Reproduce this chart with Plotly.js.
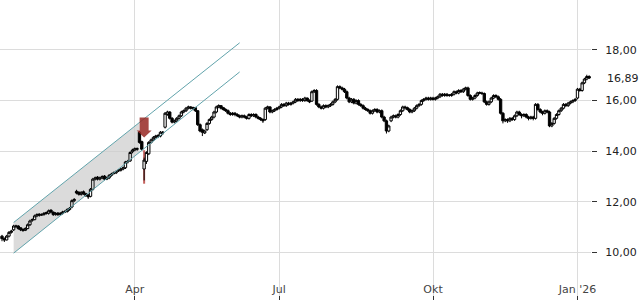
<!DOCTYPE html>
<html><head><meta charset="utf-8">
<script src="https://cdn.plot.ly/plotly-3.0.1.min.js"></script>
<style>html,body{margin:0;padding:0;background:#fff}#chart{width:640px;height:300px}</style>
</head><body><div id="chart"></div>
<script>
// trading calendar
const firstDay = '2025-01-10';
const lastDay = '2026-01-09';
const holidays = ['2025-04-18','2025-04-21','2025-05-01','2025-12-24','2025-12-25','2025-12-26','2025-12-31','2026-01-01'];

const openP = [
10.65,10.55,10.5,10.65,10.8,10.9,11.02,11.05,10.98,10.92,
10.88,10.95,11.1,11.28,11.3,11.45,11.52,11.48,11.5,11.58,
11.55,11.68,11.6,11.5,11.56,11.5,11.55,11.6,11.62,11.7,
11.8,12.05,12.42,12.38,12.3,12.4,12.32,12.28,12.22,12.5,
12.9,12.98,12.9,12.95,13.02,12.9,12.95,13.05,13.12,13.15,
13.22,13.25,13.3,13.35,13.58,13.62,13.98,14.05,14.08,14.75,
14.38,13.3,13.6,13.9,14.35,14.45,14.55,14.62,14.6,14.72,
14.95,15.45,15.55,15.3,15.15,15.2,15.3,15.4,15.55,15.6,
15.7,15.75,15.68,15.72,15.6,15.05,14.85,14.72,14.85,15.1,
15.25,15.35,15.55,15.75,15.8,15.72,15.65,15.6,15.5,15.45,
15.5,15.45,15.4,15.35,15.4,15.35,15.3,15.45,15.4,15.45,
15.35,15.3,15.25,15.25,15.7,15.75,15.55,15.6,15.65,15.7,
15.75,15.85,15.8,15.9,15.85,15.9,15.95,16.05,16.0,16.05,
16.0,16.1,16.0,15.98,16.35,16.4,15.85,15.75,15.7,15.8,
15.75,15.8,15.85,15.95,16.05,16.55,16.5,16.45,16.35,16.1,
15.95,16.05,15.9,16.0,15.85,15.8,15.7,15.65,15.6,15.5,
15.6,15.65,15.55,15.6,15.35,15.2,14.8,15.2,15.35,15.4,
15.35,15.45,15.6,15.75,15.72,15.65,15.55,15.6,15.7,15.8,
15.85,16.0,16.05,16.1,16.05,16.1,16.05,16.1,16.15,16.25,
16.2,16.25,16.22,16.2,16.25,16.35,16.3,16.4,16.35,16.45,
16.5,16.2,16.05,16.1,16.2,16.32,16.3,16.28,15.95,15.85,
15.95,16.1,16.2,16.15,16.05,15.5,15.2,15.25,15.2,15.3,
15.25,15.4,15.55,15.45,15.4,15.45,15.35,15.3,15.35,15.3,
15.85,15.65,15.55,15.5,15.6,15.55,15.0,15.1,15.3,15.45,
15.6,15.7,15.85,15.8,15.9,15.95,16.0,16.1,16.45,16.4,
16.7,16.85,16.95];

const highP = [
10.7,10.6,10.7,10.85,10.9,11.1,11.1,11.08,11.0,10.95,
11.0,11.15,11.3,11.35,11.5,11.55,11.55,11.55,11.6,11.62,
11.7,11.7,11.62,11.6,11.6,11.6,11.65,11.68,11.75,11.8,
12.1,12.15,12.48,12.42,12.42,12.45,12.36,12.3,12.55,12.95,
13.0,13.02,13.0,13.05,13.06,13.0,13.1,13.15,13.2,13.25,
13.3,13.35,13.4,13.62,13.66,14.0,14.1,14.15,14.15,14.8,
14.42,13.75,14.0,14.4,14.5,14.6,14.65,14.68,14.8,14.8,
15.55,15.6,15.58,15.35,15.25,15.35,15.45,15.6,15.65,15.75,
15.8,15.78,15.76,15.75,15.62,15.1,14.9,14.85,15.15,15.3,
15.4,15.6,15.8,15.85,15.82,15.75,15.7,15.65,15.55,15.55,
15.55,15.5,15.45,15.45,15.45,15.4,15.5,15.5,15.5,15.5,
15.4,15.35,15.3,15.75,15.8,15.78,15.65,15.7,15.75,15.8,
15.9,15.9,15.95,15.95,15.95,16.0,16.1,16.1,16.1,16.1,
16.15,16.12,16.05,16.4,16.45,16.45,15.9,15.8,15.85,15.85,
15.85,15.9,16.0,16.1,16.6,16.6,16.55,16.5,16.4,16.15,
16.1,16.1,16.05,16.05,15.9,15.85,15.75,15.7,15.65,15.65,
15.7,15.7,15.65,15.65,15.4,15.25,15.05,15.4,15.45,15.45,
15.5,15.65,15.8,15.8,15.76,15.7,15.65,15.75,15.85,15.9,
16.05,16.1,16.15,16.15,16.15,16.15,16.15,16.2,16.3,16.3,
16.3,16.3,16.26,16.3,16.4,16.4,16.45,16.45,16.5,16.55,
16.55,16.25,16.15,16.25,16.35,16.36,16.35,16.32,16.0,16.0,
16.15,16.25,16.25,16.2,16.1,15.55,15.3,15.3,15.35,15.35,
15.45,15.6,15.6,15.5,15.5,15.5,15.4,15.4,15.4,15.9,
15.9,15.7,15.6,15.65,15.65,15.6,15.15,15.35,15.5,15.65,
15.75,15.9,15.9,15.95,16.0,16.05,16.1,16.5,16.5,16.75,
16.9,17.02,17.0];

const lowP = [
10.45,10.42,10.48,10.6,10.75,10.85,10.98,10.9,10.85,10.82,
10.85,10.92,11.05,11.22,11.28,11.4,11.42,11.45,11.46,11.5,
11.5,11.55,11.45,11.46,11.45,11.46,11.5,11.56,11.58,11.65,
11.75,12.0,12.3,12.25,12.25,12.28,12.2,12.12,12.18,12.45,
12.85,12.85,12.85,12.9,12.85,12.86,12.9,13.0,13.08,13.1,
13.18,13.2,13.25,13.3,13.52,13.58,13.92,14.0,14.02,14.3,
14.02,12.85,13.5,13.85,14.3,14.4,14.5,14.52,14.55,14.65,
14.9,15.4,15.25,15.1,15.1,15.15,15.25,15.35,15.5,15.55,
15.65,15.65,15.62,15.55,15.0,14.75,14.6,14.68,14.8,15.05,
15.2,15.3,15.5,15.7,15.65,15.6,15.55,15.45,15.4,15.4,
15.38,15.35,15.3,15.3,15.3,15.25,15.25,15.35,15.35,15.3,
15.25,15.2,15.12,15.2,15.65,15.5,15.5,15.55,15.6,15.65,
15.7,15.75,15.75,15.8,15.8,15.85,15.9,15.95,15.95,15.95,
15.95,15.95,15.9,15.95,16.3,15.8,15.7,15.65,15.65,15.7,
15.7,15.75,15.8,15.9,16.0,16.45,16.4,16.3,16.05,15.9,
15.9,15.85,15.85,15.8,15.75,15.65,15.6,15.55,15.45,15.45,
15.55,15.5,15.5,15.3,15.15,14.7,14.75,15.15,15.3,15.3,
15.3,15.4,15.55,15.65,15.6,15.5,15.5,15.55,15.65,15.75,
15.8,15.95,16.0,16.0,16.0,16.0,16.0,16.05,16.1,16.15,
16.15,16.15,16.15,16.15,16.2,16.25,16.25,16.3,16.3,16.4,
16.15,16.0,16.0,16.05,16.15,16.25,16.22,15.9,15.8,15.8,
15.9,16.05,16.1,16.0,15.45,15.1,15.15,15.12,15.15,15.2,
15.2,15.35,15.4,15.3,15.35,15.3,15.22,15.25,15.22,15.25,
15.6,15.5,15.42,15.45,15.5,14.95,14.95,15.05,15.25,15.4,
15.55,15.65,15.75,15.75,15.85,15.9,15.95,16.05,16.35,16.35,
16.65,16.8,16.85];

const closeP = [
10.55,10.5,10.65,10.8,10.85,11.05,11.05,10.95,10.9,10.88,
10.95,11.1,11.25,11.3,11.45,11.5,11.48,11.5,11.55,11.55,
11.65,11.6,11.5,11.55,11.5,11.55,11.6,11.62,11.7,11.75,
12.05,12.1,12.35,12.3,12.38,12.32,12.25,12.2,12.5,12.9,
12.95,12.9,12.95,13.0,12.9,12.95,13.05,13.1,13.15,13.2,
13.25,13.3,13.35,13.58,13.6,13.95,14.05,14.1,14.1,14.35,
14.08,13.65,13.95,14.35,14.45,14.55,14.6,14.6,14.75,14.75,
15.5,15.55,15.3,15.15,15.2,15.3,15.4,15.55,15.6,15.7,
15.75,15.7,15.72,15.6,15.05,14.8,14.75,14.8,15.1,15.25,
15.35,15.55,15.75,15.8,15.7,15.65,15.6,15.5,15.45,15.5,
15.45,15.4,15.35,15.4,15.35,15.3,15.45,15.4,15.45,15.35,
15.3,15.25,15.2,15.7,15.75,15.55,15.6,15.65,15.7,15.75,
15.85,15.8,15.9,15.85,15.9,15.95,16.05,16.0,16.05,16.0,
16.1,16.0,15.95,16.35,16.4,15.85,15.75,15.7,15.8,15.75,
15.8,15.85,15.95,16.05,16.55,16.5,16.45,16.35,16.1,15.95,
16.05,15.9,16.0,15.85,15.8,15.7,15.65,15.6,15.5,15.6,
15.65,15.55,15.6,15.35,15.2,14.8,15.0,15.35,15.4,15.35,
15.45,15.6,15.75,15.72,15.65,15.55,15.6,15.7,15.8,15.85,
16.0,16.05,16.1,16.05,16.1,16.05,16.1,16.15,16.25,16.2,
16.25,16.2,16.2,16.25,16.35,16.3,16.4,16.35,16.45,16.5,
16.2,16.05,16.1,16.2,16.3,16.3,16.28,15.95,15.85,15.95,
16.1,16.2,16.15,16.05,15.5,15.2,15.25,15.2,15.3,15.25,
15.4,15.55,15.45,15.4,15.45,15.35,15.3,15.35,15.3,15.85,
15.65,15.55,15.5,15.6,15.55,15.0,15.1,15.3,15.45,15.6,
15.7,15.85,15.8,15.9,15.95,16.0,16.05,16.45,16.4,16.7,
16.85,16.95,16.89];

// axis ticks
const tickDates = ['2025-04-01','2025-07-01','2025-10-01','2026-01-02'];
const tickLabels = ['Apr','Jul','Okt',"Jan '26"];
const yTicks = [10, 12, 14, 16, 18];
const lastPriceLabel = '16,89';

// trend channel (start, end) and shaded part end
const channelDates = ['2025-01-17','2025-06-06'];
const channelLower = [9.98, 17.13];
const channelUpper = [11.19, 18.28];
const shadeEndDate = '2025-04-03';

// signal on 2025-04-07
const signalDate = '2025-04-07';
const signalArrowTop = 15.33;
const signalLine = [14.04, 12.72];

// build trading dates
const dates = [];
for (let d = new Date(firstDay + 'T00:00:00Z'); d <= new Date(lastDay + 'T00:00:00Z'); d.setUTCDate(d.getUTCDate() + 1)) {
  const wd = d.getUTCDay();
  const s = d.toISOString().slice(0, 10);
  if (wd !== 0 && wd !== 6 && holidays.indexOf(s) < 0) dates.push(s);
}

const i0 = dates.indexOf(channelDates[0]), i1 = dates.indexOf(channelDates[1]), iS = dates.indexOf(shadeEndDate);
const fr = (iS - i0) / (i1 - i0);
const loS = channelLower[0] + fr * (channelLower[1] - channelLower[0]);
const upS = channelUpper[0] + fr * (channelUpper[1] - channelUpper[0]);
const shadePath = 'M' + i0 + ',' + channelLower[0] + ' L' + iS + ',' + loS + ' L' + iS + ',' + upS + ' L' + i0 + ',' + channelUpper[0] + ' Z';

const teal = 'rgb(98,164,172)';
const traces = [
  {type:'scatter', mode:'lines', x:channelDates, y:channelLower, line:{color:teal, width:1}, hoverinfo:'skip'},
  {type:'scatter', mode:'lines', x:channelDates, y:channelUpper, line:{color:teal, width:1}, hoverinfo:'skip'},
  {type:'candlestick', x:dates, open:openP, high:highP, low:lowP, close:closeP,
   increasing:{line:{color:'#000', width:1}, fillcolor:'#fff'},
   decreasing:{line:{color:'#000', width:1}, fillcolor:'#000'},
   whiskerwidth:0, hoverinfo:'skip'}
];

const layout = {
  width:640, height:300,
  margin:{l:0, r:49, t:0, b:0},
  paper_bgcolor:'#fff', plot_bgcolor:'#fff',
  showlegend:false,
  separators:',.',
  boxgap:0, boxgroupgap:0,
  font:{family:'DejaVu Sans', size:11, color:'#222'},
  xaxis:{type:'category', categoryorder:'array', categoryarray:dates,
    range:[-0.86, 252.8], tickmode:'array', tickvals:tickDates, ticktext:tickLabels,
    showgrid:true, gridcolor:'#dcdcdc', gridwidth:1,
    ticks:'inside', ticklen:4, tickcolor:'#333', ticklabelposition:'inside', ticklabeloverflow:'allow',
    rangeslider:{visible:false}, zeroline:false, showline:false},
  yaxis:{side:'right', range:[8.13, 19.97], tickmode:'array', tickvals:yTicks, tickformat:'.2f',
    ticks:'outside', ticklen:5, tickcolor:'#333', ticklabelstandoff:6,
    showgrid:true, gridcolor:'#dcdcdc', gridwidth:1,
    zeroline:false, showline:false},
  shapes:[
    {type:'path', xref:'x', yref:'y', layer:'between', path:shadePath,
     fillcolor:'rgba(205,205,205,0.72)', line:{width:0}},
    {type:'line', xref:'x', yref:'y', layer:'between', x0:signalDate, x1:signalDate,
     y0:signalLine[0], y1:signalLine[1], line:{color:'rgba(190,80,75,0.9)', width:2}},
    {type:'path', xref:'x', yref:'y', xsizemode:'pixel', ysizemode:'pixel',
     xanchor:signalDate, yanchor:signalArrowTop,
     path:'M-4.5,0 L4.5,0 L4.5,-13 L7.5,-13 L0,-20 L-7.5,-13 L-4.5,-13 Z',
     fillcolor:'rgba(150,40,35,0.85)', line:{width:0}}
  ],
  annotations:[
    {xref:'paper', x:1, yref:'y', y:closeP[closeP.length-1], text:lastPriceLabel, showarrow:false,
     xanchor:'left', xshift:14, font:{family:'DejaVu Sans', size:11, color:'#222'}}
  ]
};

Plotly.newPlot('chart', traces, layout, {staticPlot:true, displayModeBar:false});
</script>
</body></html>
